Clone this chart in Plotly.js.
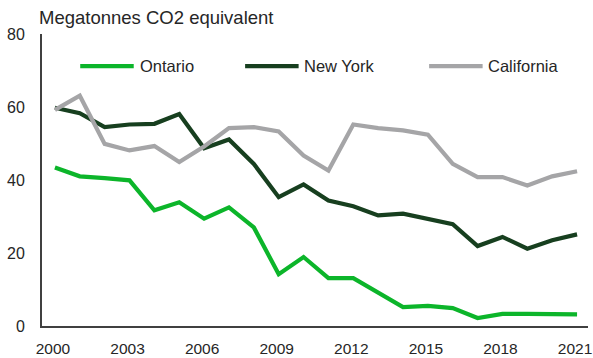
<!DOCTYPE html>
<html>
<head>
<meta charset="utf-8">
<script src="https://cdn.plot.ly/plotly-3.0.1.min.js"></script>
<style>
  html, body { margin: 0; padding: 0; background: #ffffff; }
  #chart { width: 593px; height: 358px; }
</style>
</head>
<body>
<div id="chart"></div>
<script>
// Annual greenhouse-gas emissions from electricity generation, Mt CO2e
const years = [2000, 2001, 2002, 2003, 2004, 2005, 2006, 2007, 2008, 2009, 2010,
               2011, 2012, 2013, 2014, 2015, 2016, 2017, 2018, 2019, 2020, 2021];
const ontario = [43.4, 41.0, 40.5, 39.9, 31.7, 33.9, 29.4, 32.5, 27.0, 14.2, 18.9,
                 13.1, 13.1, 9.2, 5.2, 5.5, 4.9, 2.2, 3.3, 3.3, 3.3, 3.2];
const newYork = [59.8, 58.3, 54.5, 55.2, 55.4, 58.1, 48.7, 51.1, 44.4, 35.3, 38.8,
                 34.4, 32.8, 30.3, 30.8, 29.4, 27.9, 21.9, 24.4, 21.2, 23.5, 25.1];
const california = [59.2, 63.1, 49.9, 48.1, 49.3, 44.9, 49.2, 54.2, 54.5, 53.3, 46.7,
                    42.6, 55.2, 54.2, 53.6, 52.4, 44.4, 40.8, 40.8, 38.5, 41.0, 42.4];
const seriesNames = ['Ontario', 'New York', 'California'];
const xTicks = [2000, 2003, 2006, 2009, 2012, 2015, 2018, 2021];
const yTicks = [0, 20, 40, 60, 80];

const colors = ['#0cb52a', '#173f1f', '#a5a5a7'];
const seriesData = [ontario, newYork, california];
const font = 'Liberation Sans, Arial, sans-serif';

const traces = seriesData.map((vals, i) => ({
  x: years,
  y: vals,
  name: seriesNames[i],
  type: 'scatter',
  mode: 'lines',
  line: { color: colors[i], width: 4.2, shape: 'linear' },
  showlegend: false,
  hoverinfo: 'x+y+name'
}));

// Legend drawn as short line swatches with labels across the top of the plot
const legendY = 0.89;
const legendSlots = [
  { x0: 0.070, x1: 0.168, tx: 0.175 },
  { x0: 0.372, x1: 0.470, tx: 0.477 },
  { x0: 0.709, x1: 0.807, tx: 0.814 }
];
const shapes = legendSlots.map((s, i) => ({
  type: 'line', xref: 'paper', yref: 'paper',
  x0: s.x0, x1: s.x1, y0: legendY, y1: legendY,
  line: { color: colors[i], width: 4.2 }
}));
const annotations = legendSlots.map((s, i) => ({
  xref: 'paper', yref: 'paper', x: s.tx, y: legendY,
  xanchor: 'left', yanchor: 'middle', showarrow: false,
  text: seriesNames[i],
  font: { family: font, size: 16.5, color: '#262626' }
}));

const layout = {
  width: 593,
  height: 358,
  margin: { l: 42, r: 5, t: 34, b: 32, pad: 0 },
  paper_bgcolor: '#ffffff',
  plot_bgcolor: '#ffffff',
  showlegend: false,
  title: {
    text: 'Megatonnes CO2 equivalent',
    x: 39 / 593, xanchor: 'left', xref: 'container',
    y: 1 - 18 / 358, yanchor: 'middle', yref: 'container',
    font: { family: font, size: 18.5, color: '#262626' }
  },
  xaxis: {
    range: [1999.48, 2021.44],
    tickvals: xTicks,
    ticktext: xTicks.map(String),
    showgrid: false,
    zeroline: false,
    showline: true,
    linecolor: '#404040',
    linewidth: 1.6,
    ticks: '',
    ticklabelstandoff: 8,
    ticklabelshift: -2,
    ticklabeloverflow: 'allow',
    tickfont: { family: font, size: 15.5, color: '#262626' }
  },
  yaxis: {
    range: [0, 80],
    tickvals: yTicks,
    showgrid: false,
    zeroline: false,
    showline: true,
    linecolor: '#404040',
    linewidth: 2,
    ticks: '',
    ticklabelstandoff: 12,
    tickfont: { family: font, size: 16, color: '#262626' }
  },
  shapes: shapes,
  annotations: annotations
};

Plotly.newPlot('chart', traces, layout, { displayModeBar: false, staticPlot: true });
</script>
</body>
</html>
